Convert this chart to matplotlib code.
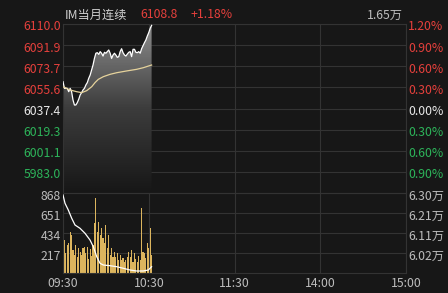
import numpy as np
import matplotlib
matplotlib.use("Agg")
import matplotlib.pyplot as plt
from matplotlib.colors import LinearSegmentedColormap
from matplotlib.transforms import offset_copy

plt.rcParams['font.family'] = ['Noto Sans CJK SC', 'DejaVu Sans']

# ----------------------------
# Data (minutes since 09:30)
# ----------------------------
price = [6060.5, 6054.8, 6054.8, 6054.8, 6051.9, 6054.8, 6051.9, 6044.8, 6040.5, 6040.5,
         6042.5, 6045.4, 6049.1, 6051.1, 6053.4, 6054.8, 6057.7, 6059.7, 6063.4, 6066.2,
         6070.5, 6074.8, 6080.5, 6084.9, 6085.4, 6083.9, 6086.3, 6084.9, 6082.5, 6085.7,
         6084.9, 6086.3, 6087.7, 6084.9, 6080.5, 6083.4, 6084.9, 6083.4, 6081.4, 6082.0,
         6086.3, 6088.8, 6085.4, 6083.4, 6082.5, 6084.2, 6085.7, 6086.3, 6082.0, 6088.3,
         6088.3, 6085.7, 6085.4, 6086.3, 6084.9, 6088.8, 6091.4, 6094.0, 6096.3, 6099.7,
         6102.6, 6106.3, 6108.8]

avg_minutes = [0, 4.9, 9.6, 13.1, 16.6, 20.1, 22.4, 24.7, 28.2, 32.9, 37.6, 44.5, 51.5, 56.2, 62]
avg_price = [6056.2, 6053.4, 6051.9, 6051.1, 6052.8, 6056.2, 6059.7, 6062.5, 6064.8, 6066.8,
             6068.2, 6069.7, 6071.1, 6072.5, 6074.8]

volume = [868, 360, 213, 304, 322, 448, 412, 250, 195, 304,
          177, 268, 231, 195, 268, 286, 213, 286, 150, 260,
          180, 300, 539, 810, 448, 556, 412, 485, 376, 322,
          521, 268, 412, 195, 268, 177, 231, 177, 213, 141,
          195, 141, 159, 123, 141, 177, 231, 177, 250, 123,
          213, 150, 120, 180, 140, 702, 231, 213, 160, 322,
          268, 485, 195]

oi_minutes = [0, 1.4, 3.7, 6.1, 8.4, 11.9, 15.4, 18.9, 21.2, 23.6, 25.9, 28.2, 32.9,
              37.6, 42.2, 46.9, 51.5, 56.2, 59.7, 62]
open_interest = [62907, 62520, 62207, 61820, 61508, 61354, 61121, 60809, 60496, 60030,
                 59722, 59643, 59610, 59564, 59489, 59410, 59364, 59364, 59410, 59564]

price_ticks = [5983.0, 6001.1, 6019.3, 6037.4, 6055.6, 6073.7, 6091.9, 6110.0]
pct_labels = ["0.90%", "0.60%", "0.30%", "0.00%", "0.30%", "0.60%", "0.90%", "1.20%"]
vol_ticks = [217, 434, 651, 868]
oi_labels = ["6.02万", "6.11万", "6.21万", "6.30万"]
time_ticks = [0, 60, 120, 180, 240]
time_labels = ["09:30", "10:30", "11:30", "14:00", "15:00"]

# ----------------------------
# Colours
# ----------------------------
BG = "#171717"
GRID = "#333333"
RED = "#e5403c"
GREEN = "#2db45a"
WHITE = "#e8e8e8"
GRAY = "#bcbcbc"
FS = 8.8

fig = plt.figure(figsize=(4.48, 2.93), dpi=100, facecolor=BG)
W, H = 448, 293


def box(x0, y0, x1, y1):
    return [x0 / W, 1 - y1 / H, (x1 - x0) / W, (y1 - y0) / H]


ax = fig.add_axes(box(63, 24, 406, 193))
axv = fig.add_axes(box(63, 193, 406, 273))

pmin = 6110.0 - 169 * 127.0 / 148
for a in (ax, axv):
    a.set_facecolor(BG)
    a.set_xlim(0, 240)
    for s in a.spines.values():
        s.set_color(GRID)
        s.set_linewidth(0.8)
    a.tick_params(length=0, labelleft=False, labelbottom=False)
    a.set_xticks(time_ticks)
    a.grid(True, color=GRID, linewidth=0.8)
    a.set_axisbelow(True)

# price panel
t = np.arange(len(price))
ax.set_ylim(pmin, 6110.0)
ax.set_yticks(price_ticks)

cmap = LinearSegmentedColormap.from_list("fade", [BG, "#3c3c3c", "#8e8e8e"])
grad = np.linspace(0, 1, 200).reshape(-1, 1)
img = ax.imshow(grad, extent=[0, t[-1], pmin, 6110.0], origin="lower", aspect="auto",
                cmap=cmap, zorder=1)
poly = ax.fill_between(t, price, pmin, color="none", zorder=1)
img.set_clip_path(poly.get_paths()[0], transform=ax.transData)
ax.set_xlim(0, 240)
ax.set_ylim(pmin, 6110.0)

ax.plot(t, price, color="#ffffff", linewidth=0.9, zorder=3)
ax.plot(avg_minutes, avg_price, color="#e6d39c", linewidth=0.9, zorder=3)

tp = offset_copy(ax.transData, fig=fig, y=-3, units="dots")
for v, lab in zip(price_ticks, pct_labels):
    c = RED if v > 6040 else (WHITE if v > 6030 else GREEN)
    ax.text(-1.5, v, f"{v:.1f}", color=c, fontsize=FS, ha="right", va="center", transform=tp)
    ax.text(241.5, v, lab, color=c, fontsize=FS, ha="left", va="center", transform=tp)

# volume panel
axv.bar(t, volume, width=0.8, color="#dcb55e", zorder=2)
axv.set_ylim(0, 868)
axv.set_yticks(vol_ticks)
tv = offset_copy(axv.transData, fig=fig, y=-3, units="dots")
for v, lab in zip(vol_ticks, oi_labels):
    axv.text(-1.5, v, str(v), color=GRAY, fontsize=FS, ha="right", va="center", transform=tv)
    axv.text(241.5, v, lab, color=GRAY, fontsize=FS, ha="left", va="center", transform=tv)

axo = axv.twinx()
axo.set_ylim(59270, 63000)
axo.plot(oi_minutes, open_interest, color="#ffffff", linewidth=0.9)
axo.axis("off")

for m, lab in zip(time_ticks, time_labels):
    axv.text(m, -40, lab, color=GRAY, fontsize=FS, ha="center", va="top")

# header
fig.text(65 / W, 1 - 15 / H, "IM当月连续", color="#d0d0d0", fontsize=FS, ha="left", va="center")
fig.text(140 / W, 1 - 15 / H, "6108.8", color=RED, fontsize=FS, ha="left", va="center")
fig.text(190 / W, 1 - 15 / H, "+1.18%", color=RED, fontsize=FS, ha="left", va="center")
fig.text(403 / W, 1 - 15 / H, "1.65万", color=GRAY, fontsize=FS, ha="right", va="center")

fig.savefig("out.png", dpi=100, facecolor=BG)
